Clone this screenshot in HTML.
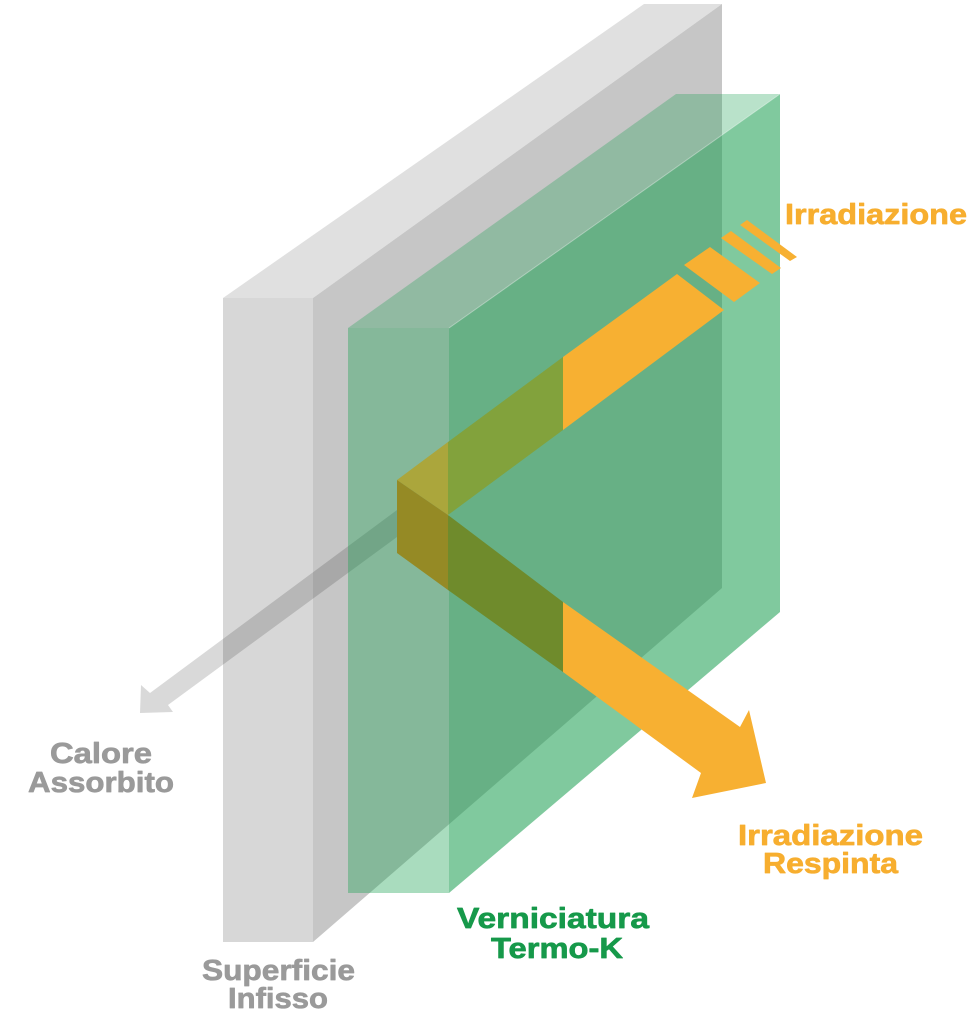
<!DOCTYPE html>
<html>
<head>
<meta charset="utf-8">
<style>
  html,body{margin:0;padding:0;background:#fff;}
  body{width:974px;height:1024px;overflow:hidden;}
  svg{display:block;}
  text{font-family:"Liberation Sans", Arial, sans-serif;font-weight:bold;font-size:29px;stroke-width:0.7px;stroke-linejoin:round;}
</style>
</head>
<body>
<svg width="974" height="1024" viewBox="0 0 974 1024" xmlns="http://www.w3.org/2000/svg">
  <rect x="0" y="0" width="974" height="1024" fill="#ffffff"/>

  <!-- Gray slab (Superficie Infisso) -->
  <polygon points="223,298 313,298 722,4 644,4" fill="#e0e0e0"/>
  <polygon points="223,298 313,298 313,942 223,942" fill="#d7d7d7"/>
  <polygon points="313,298 722,4 722,588 313,942" fill="#c6c6c6"/>

  <!-- Gray arrow (Calore Assorbito) -->
  <polygon points="397,510 150,693 141,685 140,713 173,712 168,705 397,537" fill="#000" fill-opacity="0.15"/>

  <!-- Green slab (translucent) -->
  <polygon points="348,328 449,328 780,94 676,94" fill="#16a050" fill-opacity="0.30"/>
  <polygon points="348,328 449,328 449,893 348,893" fill="#16a050" fill-opacity="0.37"/>
  <polygon points="449,328 780,94 780,612 449,893" fill="#1c9f52" fill-opacity="0.56"/>
  <line x1="449" y1="328" x2="780" y2="94" stroke="#ffffff" stroke-opacity="0.35" stroke-width="1"/>

  <!-- Beam inside the green slab -->
  <polygon points="397,480 448,442 448,515" fill="#aba63c"/>
  <polygon points="397,480 448,515 448,590 397,553" fill="#958a25"/>
  <polygon points="448,442 563,357 563,430 448,515" fill="#82a23c"/>
  <polygon points="448,515 563,602 563,672 448,590" fill="#6f8b2c"/>

  <!-- Incoming beam (orange) -->
  <polygon points="563,357 677,274 724,310 563,430" fill="#f7b032"/>
  <polygon points="684,265 710,247 760,283 734,302" fill="#f7b032"/>
  <polygon points="721,238 731,231 781,268 772,274" fill="#f7b032"/>
  <polygon points="740,225 747,220 797,257 790,261" fill="#f7b032"/>

  <!-- Reflected beam arrow (orange) -->
  <polygon points="563,602 740,727 749,710 766,783 692,798 701,773 563,672" fill="#f7b032"/>

  <!-- Labels -->
  <text x="785" y="224" fill="#f7ae2f" stroke="#f7ae2f" textLength="182" lengthAdjust="spacingAndGlyphs">Irradiazione</text>

  <text x="738" y="845" fill="#f7ae2f" stroke="#f7ae2f" textLength="185" lengthAdjust="spacingAndGlyphs">Irradiazione</text>
  <text x="763" y="873" fill="#f7ae2f" stroke="#f7ae2f" textLength="135" lengthAdjust="spacingAndGlyphs">Respinta</text>

  <text x="457" y="928" fill="#16994a" stroke="#16994a" textLength="192" lengthAdjust="spacingAndGlyphs">Verniciatura</text>
  <text x="491" y="958" fill="#16994a" stroke="#16994a" textLength="132" lengthAdjust="spacingAndGlyphs">Termo-K</text>

  <text x="50" y="763" fill="#9a9a9a" stroke="#9a9a9a" textLength="102" lengthAdjust="spacingAndGlyphs">Calore</text>
  <text x="28" y="792" fill="#9a9a9a" stroke="#9a9a9a" textLength="146" lengthAdjust="spacingAndGlyphs">Assorbito</text>

  <text x="202" y="980" fill="#9a9a9a" stroke="#9a9a9a" textLength="153" lengthAdjust="spacingAndGlyphs">Superficie</text>
  <text x="228" y="1008" fill="#9a9a9a" stroke="#9a9a9a" textLength="100" lengthAdjust="spacingAndGlyphs">Infisso</text>
</svg>
</body>
</html>
